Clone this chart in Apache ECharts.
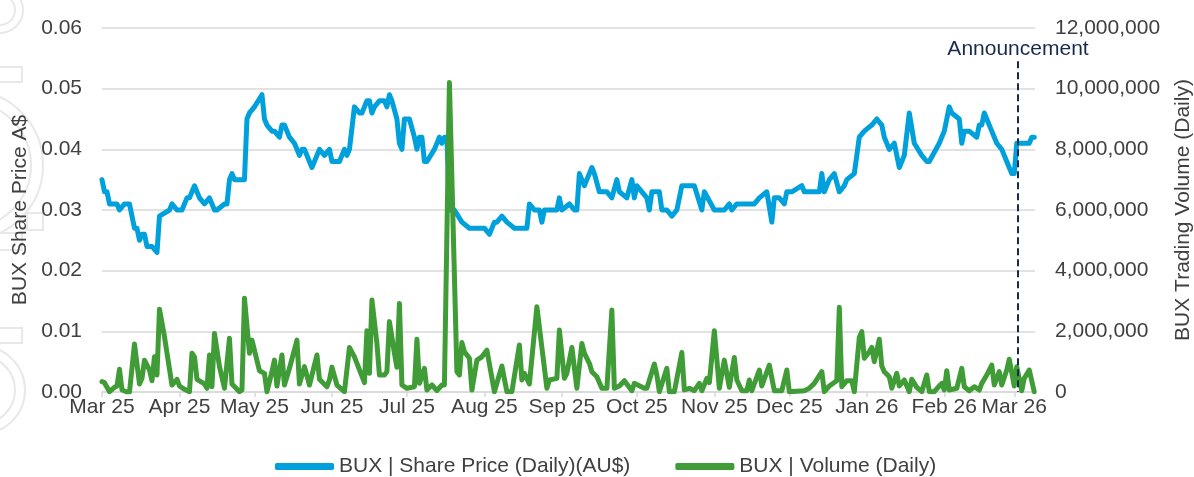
<!DOCTYPE html>
<html><head><meta charset="utf-8">
<script src="https://cdn.jsdelivr.net/npm/echarts@6/dist/echarts.min.js"></script>
<style>html,body{margin:0;padding:0;background:#fff}#c{width:1194px;height:477px}</style>
</head><body><div id="c"></div>
<script>
// Days are counted from 1 Mar 2025 (day 0)
const monthStartDays = [0,31,61,92,122,153,184,214,245,275,306,337,365];
const tickLabels = ['Mar 25','Apr 25','May 25','Jun 25','Jul 25','Aug 25','Sep 25','Oct 25','Nov 25','Dec 25','Jan 26','Feb 26','Mar 26'];
const priceTicks = [0,0.01,0.02,0.03,0.04,0.05,0.06];
const volumeTicks = [0,2000000,4000000,6000000,8000000,10000000,12000000];

const priceDays = [0,1,2,3,6,7,9,11,13,14,15,16,17,18,20,22,23,27,28,30,32,34,35,37,39,41,43,45,46,49,50,51,52,53,57,58,59,61,64,65,66,68,69,71,72,73,75,77,79,80,81,83,84,87,89,91,92,95,97,98,99,101,103,104,106,107,108,109,111,113,114,115,116,118,119,120,121,123,125,126,127,128,129,130,133,135,136,137,138,139,141,144,147,150,153,155,157,158,160,162,165,170,171,173,175,176,177,182,183,184,187,189,190,191,193,194,196,197,199,202,204,206,207,210,212,213,214,216,218,219,220,223,224,226,228,230,232,237,240,241,245,249,251,252,254,261,263,266,268,269,271,273,274,276,280,281,286,287,288,289,291,293,295,297,298,301,303,305,308,310,312,313,315,317,319,321,323,325,328,330,331,335,337,339,340,343,344,345,347,350,351,352,353,356,358,360,362,364,365,366,371,372,373];
const priceValues = [0.035,0.033,0.033,0.031,0.031,0.030,0.031,0.031,0.027,0.027,0.025,0.026,0.026,0.024,0.024,0.023,0.029,0.030,0.031,0.030,0.030,0.032,0.032,0.034,0.032,0.031,0.032,0.030,0.030,0.031,0.031,0.035,0.036,0.035,0.035,0.045,0.046,0.047,0.049,0.045,0.044,0.043,0.043,0.042,0.044,0.044,0.042,0.041,0.039,0.040,0.040,0.038,0.037,0.040,0.039,0.040,0.038,0.038,0.040,0.039,0.040,0.047,0.046,0.046,0.048,0.048,0.046,0.047,0.048,0.048,0.047,0.049,0.048,0.045,0.041,0.040,0.045,0.045,0.042,0.040,0.042,0.042,0.038,0.038,0.040,0.042,0.041,0.042,0.042,0.030,0.030,0.028,0.027,0.027,0.027,0.026,0.028,0.028,0.029,0.028,0.027,0.027,0.031,0.030,0.030,0.028,0.030,0.030,0.032,0.030,0.031,0.030,0.030,0.036,0.034,0.035,0.037,0.036,0.033,0.033,0.032,0.035,0.033,0.032,0.035,0.032,0.034,0.033,0.032,0.030,0.033,0.033,0.030,0.030,0.029,0.030,0.034,0.034,0.030,0.033,0.030,0.030,0.031,0.030,0.031,0.031,0.032,0.033,0.028,0.032,0.032,0.031,0.033,0.033,0.034,0.033,0.033,0.033,0.036,0.033,0.035,0.036,0.033,0.034,0.035,0.036,0.042,0.043,0.044,0.045,0.044,0.042,0.040,0.041,0.037,0.039,0.046,0.041,0.039,0.038,0.038,0.041,0.043,0.047,0.046,0.045,0.041,0.043,0.043,0.042,0.044,0.044,0.046,0.043,0.041,0.040,0.038,0.036,0.036,0.041,0.041,0.042,0.042];

const volumeDays = [0,1,3,5,6,7,8,10,11,13,15,16,17,19,20,21,22,23,25,28,30,31,33,35,36,37,38,41,42,43,44,45,47,49,51,52,55,56,57,59,60,63,65,66,68,69,70,72,73,75,78,79,81,83,86,87,90,91,92,94,97,99,101,105,106,107,108,110,111,113,114,115,117,118,119,120,122,125,126,127,129,130,132,134,136,137,139,142,143,144,145,147,148,150,152,154,157,160,162,164,167,168,169,171,174,178,179,182,183,185,186,188,190,192,193,195,196,198,200,202,204,205,207,209,212,213,217,218,221,222,223,226,227,229,232,233,235,237,239,240,242,243,245,247,249,251,253,254,256,258,259,260,263,264,267,269,272,274,275,281,283,285,288,289,291,294,295,296,298,300,301,303,304,305,307,308,309,311,312,313,315,316,318,319,321,323,324,326,328,330,331,333,335,336,337,338,339,342,344,345,347,349,351,352,354,356,357,359,360,362,363,365,366,368,369,371,373];
const volumeValues = [340000,307000,10000,155000,200000,750000,65000,0,0,1580000,264000,450000,1050000,725000,373000,1160000,560000,2730000,1820000,230000,418000,198000,89000,10000,1280000,1160000,418000,264000,122000,1220000,175000,1930000,835000,122000,1770000,264000,10000,66000,3090000,1280000,1710000,703000,615000,10000,670000,1050000,198000,1220000,230000,780000,1710000,264000,835000,230000,1220000,418000,175000,396000,820000,230000,10000,1470000,1160000,307000,2020000,615000,3030000,1600000,560000,560000,670000,2320000,1280000,813000,2920000,230000,122000,175000,1740000,285000,780000,66000,230000,43000,230000,230000,10200000,670000,560000,1630000,1330000,1110000,66000,1050000,1160000,1380000,10000,857000,10000,10000,1550000,396000,615000,264000,2810000,122000,396000,450000,2040000,450000,615000,1470000,122000,1600000,1280000,945000,670000,505000,122000,122000,2700000,122000,198000,373000,43000,285000,122000,122000,923000,560000,10000,780000,10000,10000,1300000,66000,122000,43000,285000,43000,450000,307000,2020000,122000,1050000,155000,1140000,396000,43000,43000,396000,43000,725000,198000,890000,43000,43000,725000,10000,43000,122000,285000,670000,10000,198000,373000,2790000,175000,373000,373000,10000,1800000,1990000,1110000,1330000,1470000,1000000,1740000,857000,670000,505000,122000,615000,198000,396000,10000,418000,155000,10000,560000,10000,10000,198000,285000,66000,703000,66000,122000,780000,175000,43000,175000,66000,285000,560000,890000,230000,670000,230000,725000,1080000,198000,835000,43000,450000,725000,10000];

const announcementDay = 366.5;
const announcementTop = 0.0545;
const announcementText = 'Announcement';

const priceName = 'BUX | Share Price (Daily)(AU$)';
const volumeName = 'BUX | Volume (Daily)';

const FONT = '"Liberation Sans", Arial, sans-serif';
const TXT = '#404040';
const GRID = '#d9d9d9';

const chart = echarts.init(document.getElementById('c'), null, {renderer: 'canvas'});
const wm = '#e8e8e8';
function ring(cx, cy, r) { return {type:'circle', z:-10, silent:true, shape:{cx:cx, cy:cy, r:r}, style:{fill:'none', stroke:wm, lineWidth:2}}; }
function box(x, y, w, h) { return {type:'rect', z:-10, silent:true, shape:{x:x, y:y, width:w, height:h}, style:{fill:'none', stroke:wm, lineWidth:2}}; }
chart.setOption({
  animation: false,
  backgroundColor: '#fff',
  textStyle: {fontFamily: FONT},
  graphic: [
    ring(0, 10, 23), ring(0, 10, 15),
    box(-2, 67, 24, 15),
    ring(-32, 165, 75), ring(-32, 165, 63),
    box(27, 213, 16, 17),
    box(-2, 233, 24, 17),
    box(-2, 328, 24, 15),
    ring(-19, 390, 44), ring(-19, 390, 34)
  ],
  grid: {left: 102, right: 159, top: 28, bottom: 85, containLabel: false, outerBoundsMode: 'none'},
  legend: {
    top: 451, left: 270,
    icon: 'roundRect', itemWidth: 59, itemHeight: 7, itemGap: 45,
    textStyle: {fontSize: 21, color: TXT, fontFamily: FONT},
    data: [priceName, volumeName]
  },
  xAxis: {
    type: 'value', min: 0, max: 373.3,
    splitLine: {show: false},
    axisLine: {show: true, lineStyle: {color: GRID, width: 1.5}},
    axisTick: {show: true, customValues: monthStartDays, length: 5, lineStyle: {color: GRID, width: 1.5}},
    axisLabel: {
      customValues: monthStartDays, fontSize: 21, color: TXT, margin: 5, fontFamily: FONT,
      formatter: function (v) { const i = monthStartDays.indexOf(Math.round(v)); return i >= 0 ? tickLabels[i] : ''; }
    }
  },
  yAxis: [
    {
      type: 'value', min: priceTicks[0], max: priceTicks[priceTicks.length-1], interval: 0.01,
      name: 'BUX Share Price A$', nameLocation: 'middle', nameRotate: 90, nameGap: 65,
      nameTextStyle: {fontSize: 21, color: TXT, fontFamily: FONT},
      axisLine: {show: false}, axisTick: {show: false},
      axisLabel: {fontSize: 21, color: TXT, margin: 20, fontFamily: FONT, formatter: v => v.toFixed(2)},
      splitLine: {show: true, lineStyle: {color: GRID, width: 1.5}}
    },
    {
      type: 'value', min: volumeTicks[0], max: volumeTicks[volumeTicks.length-1], interval: 2000000,
      name: 'BUX Trading Volume (Daily)', nameLocation: 'middle', nameRotate: 90, nameGap: 138,
      nameTextStyle: {fontSize: 21, color: TXT, fontFamily: FONT},
      axisLine: {show: false}, axisTick: {show: false},
      axisLabel: {fontSize: 21, color: TXT, margin: 20, fontFamily: FONT, formatter: v => v.toLocaleString('en-US')},
      splitLine: {show: false}
    }
  ],
  series: [
    {
      name: priceName, type: 'line', yAxisIndex: 0, showSymbol: false, symbol: 'none',
      color: '#00a0dc',
      lineStyle: {width: 5, color: '#00a0dc', cap: 'round', join: 'round'},
      data: priceDays.map((d, i) => [d, priceValues[i]]),
      markLine: {
        silent: true, symbol: 'none',
        lineStyle: {type: [7, 4], color: '#172b4d', width: 2},
        label: {show: true, position: 'start', formatter: announcementText, fontSize: 21, color: '#172b4d', fontFamily: FONT, distance: 2},
        data: [[{coord: [announcementDay, announcementTop]}, {coord: [announcementDay, 0]}]]
      }
    },
    {
      name: volumeName, type: 'line', yAxisIndex: 1, showSymbol: false, symbol: 'none',
      color: '#409c36',
      lineStyle: {width: 5, color: '#409c36', cap: 'round', join: 'round'},
      data: volumeDays.map((d, i) => [d, volumeValues[i]])
    }
  ]
});
</script></body></html>
